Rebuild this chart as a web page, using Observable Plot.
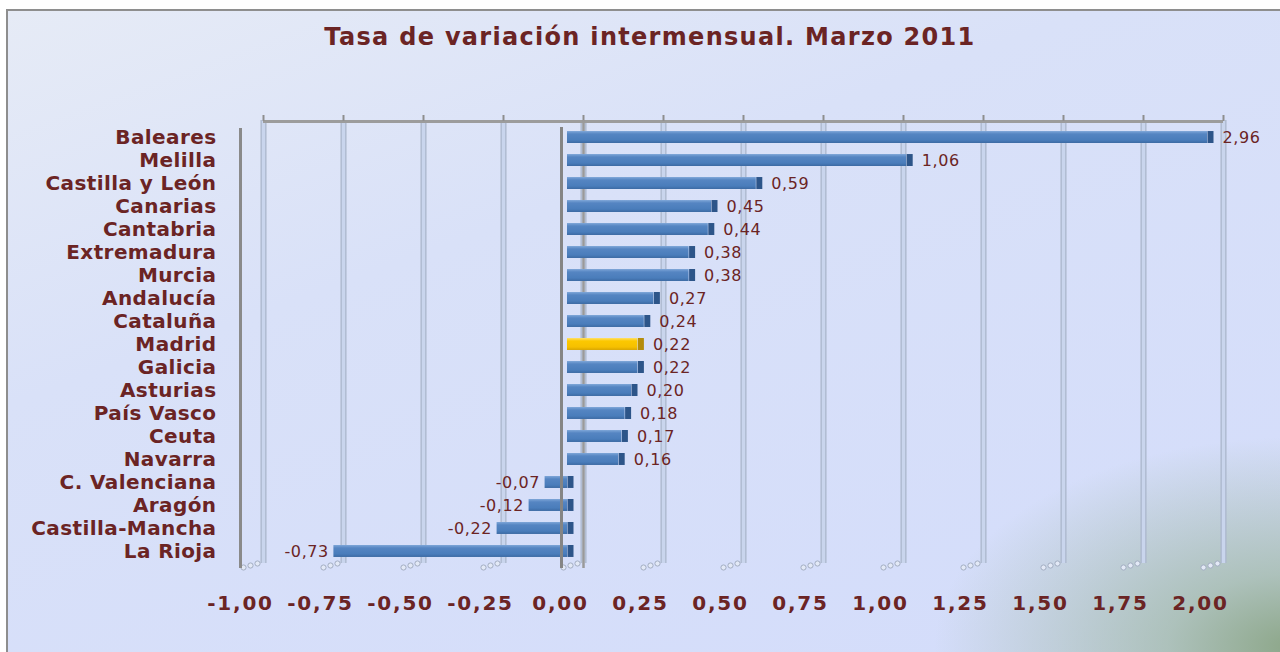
<!DOCTYPE html>
<html>
<head>
<meta charset="utf-8">
<script src="https://cdn.jsdelivr.net/npm/d3@7"></script>
<script src="https://cdn.jsdelivr.net/npm/@observablehq/plot@0.6"></script>
<style>
  html, body { margin: 0; padding: 0; background: #ffffff; }
  #chart { position: relative; width: 1280px; height: 652px; overflow: hidden; background: #fff; }
  #box {
    position: absolute; left: 6px; top: 9px; width: 1290px; height: 660px;
    border: 2px solid #8e8e8e; box-sizing: border-box;
    background:
      radial-gradient(ellipse 360px 210px at 100% 97%, rgba(140,166,136,1) 0%, rgba(160,184,166,0.75) 35%, rgba(210,220,250,0) 100%),
      linear-gradient(160deg, #e6ebf6 0%, #d9e1f8 35%, #d3dcfb 100%);
  }
  #title {
    position: absolute; left: 0; top: 25px; width: 1300px; text-align: center;
    font-family: "DejaVu Sans", sans-serif; font-weight: bold; font-size: 24px;
    line-height: 1; color: #6b2424; letter-spacing: 1.3px;
  }
  #plot { position: absolute; left: 0; top: 60px; width: 1280px; }
</style>
</head>
<body>
<div id="chart">
  <div id="box"></div>
  <div id="title">Tasa de variación intermensual. Marzo 2011</div>
  <div id="plot"></div>
</div>
<script>
// ---- data ----
const regions = ["Baleares", "Melilla", "Castilla y León", "Canarias", "Cantabria", "Extremadura", "Murcia", "Andalucía", "Cataluña", "Madrid", "Galicia", "Asturias", "País Vasco", "Ceuta", "Navarra", "C. Valenciana", "Aragón", "Castilla-Mancha", "La Rioja"];
const values = [2.96, 1.06, 0.59, 0.45, 0.44, 0.38, 0.38, 0.27, 0.24, 0.22, 0.22, 0.20, 0.18, 0.17, 0.16, -0.07, -0.12, -0.22, -0.73];
const xTicks = [-1, -0.75, -0.5, -0.25, 0, 0.25, 0.5, 0.75, 1, 1.25, 1.5, 1.75, 2];
const highlight = "Madrid";

const data = regions.map((name, i) => ({name, value: values[i]}));
const fmt = v => v.toFixed(2).replace(".", ",");
const maroon = "#6b2424";

const chart = Plot.plot({
  width: 1280,
  height: 592,
  marginTop: 60,
  marginBottom: 84,
  marginLeft: 247,
  marginRight: 73,
  style: {background: "transparent", overflow: "visible", fontFamily: "DejaVu Sans, sans-serif"},
  x: {domain: [-1, 2], clamp: true, axis: null},
  y: {domain: regions, padding: 0.48, round: false, axis: null},
  marks: [
    // back gridlines (double light lines)
    Plot.ruleX(xTicks, {dx: 16, stroke: "#a9b5ca", strokeWidth: 6, insetBottom: 5}),
    Plot.ruleX(xTicks, {dx: 16, stroke: "#c9d5ed", strokeWidth: 3.5, insetBottom: 5}),
    // little feet at gridline bottoms
    Plot.dot(xTicks, {x: d => d, frameAnchor: "bottom", dx: -4, dy: -1, r: 2.6, stroke: "#a3aec2", fill: "#e3e9f6", strokeWidth: 1}),
    Plot.dot(xTicks, {x: d => d, frameAnchor: "bottom", dx: 3, dy: -3, r: 2.6, stroke: "#a3aec2", fill: "#e3e9f6", strokeWidth: 1}),
    Plot.dot(xTicks, {x: d => d, frameAnchor: "bottom", dx: 10, dy: -5, r: 2.6, stroke: "#a3aec2", fill: "#e3e9f6", strokeWidth: 1}),
    // top back line with tick marks
    Plot.ruleY([regions[0]], {x1: -1, x2: 2, dx: 16, dy: -16, stroke: "#9c9c9c", strokeWidth: 3}),
    Plot.axisX({anchor: "top", ticks: xTicks, tickSize: 6, tickFormat: () => "", dx: 16, stroke: "#8e8e8e", strokeWidth: 2, label: null}),
    // left wall
    Plot.ruleX([-1], {dx: -7, stroke: "#8a8a8a", strokeWidth: 3, insetTop: 8}),
    // zero back line
    Plot.ruleX([0], {dx: 16, stroke: "#9a9a9a", strokeWidth: 2.5}),
    // bars
    Plot.barX(data, {filter: d => d.name !== highlight, x: "value", y: "name", fill: "url(#barBlue)"}),
    Plot.barX(data, {filter: d => d.name === highlight, x: "value", y: "name", fill: "url(#barGold)"}),
    // 3D end caps
    Plot.tickX(data, {filter: d => d.name !== highlight, x: d => Math.max(d.value, 0), y: "name", dx: 3, stroke: "#2d5589", strokeWidth: 6}),
    Plot.tickX(data, {filter: d => d.name === highlight, x: d => Math.max(d.value, 0), y: "name", dx: 3, stroke: "#b48c0c", strokeWidth: 6}),
    // zero front line
    Plot.ruleX([0], {dx: -6, stroke: "#858585", strokeWidth: 3, insetTop: 7}),
    // value labels
    Plot.text(data, {filter: d => d.value >= 0, x: "value", y: "name", text: d => fmt(d.value), textAnchor: "start", dx: 15, fontSize: 16, fill: maroon}),
    Plot.text(data, {filter: d => d.value < 0, x: "value", y: "name", text: d => fmt(d.value), textAnchor: "end", dx: -5, fontSize: 16, fill: maroon}),
    // category labels
    Plot.text(data, {y: "name", text: "name", frameAnchor: "left", textAnchor: "end", dx: -31, fontSize: 20, fontWeight: "bold", fill: maroon}),
    // x tick labels
    Plot.text(xTicks, {x: d => d, text: d => fmt(d), frameAnchor: "bottom", dy: 35, dx: -7, lineAnchor: "middle", fontSize: 20, fontWeight: "bold", fill: maroon})
  ]
});

// gradients for the 3D-looking bars
const svg = d3.select(chart);
const defs = svg.insert("defs", ":first-child");
const g1 = defs.append("linearGradient").attr("id", "barBlue").attr("x1", 0).attr("y1", 0).attr("x2", 0).attr("y2", 1);
g1.append("stop").attr("offset", "0%").attr("stop-color", "#7ea6d8");
g1.append("stop").attr("offset", "25%").attr("stop-color", "#5585c2");
g1.append("stop").attr("offset", "75%").attr("stop-color", "#4a7dbb");
g1.append("stop").attr("offset", "100%").attr("stop-color", "#3c6aa3");
const g2 = defs.append("linearGradient").attr("id", "barGold").attr("x1", 0).attr("y1", 0).attr("x2", 0).attr("y2", 1);
g2.append("stop").attr("offset", "0%").attr("stop-color", "#ffe066");
g2.append("stop").attr("offset", "25%").attr("stop-color", "#fcc800");
g2.append("stop").attr("offset", "75%").attr("stop-color", "#f6c000");
g2.append("stop").attr("offset", "100%").attr("stop-color", "#d9a600");

// letter spacing for text groups
const textGroups = svg.selectAll("g[aria-label='text']").nodes();
textGroups.forEach((g, i) => {
  if (i < 2) g.setAttribute("letter-spacing", "0.6");
  else if (i === 2) g.setAttribute("letter-spacing", "0.4");
  else g.setAttribute("letter-spacing", "1.8");
});

document.getElementById("plot").appendChild(chart);
</script>
</body>
</html>
